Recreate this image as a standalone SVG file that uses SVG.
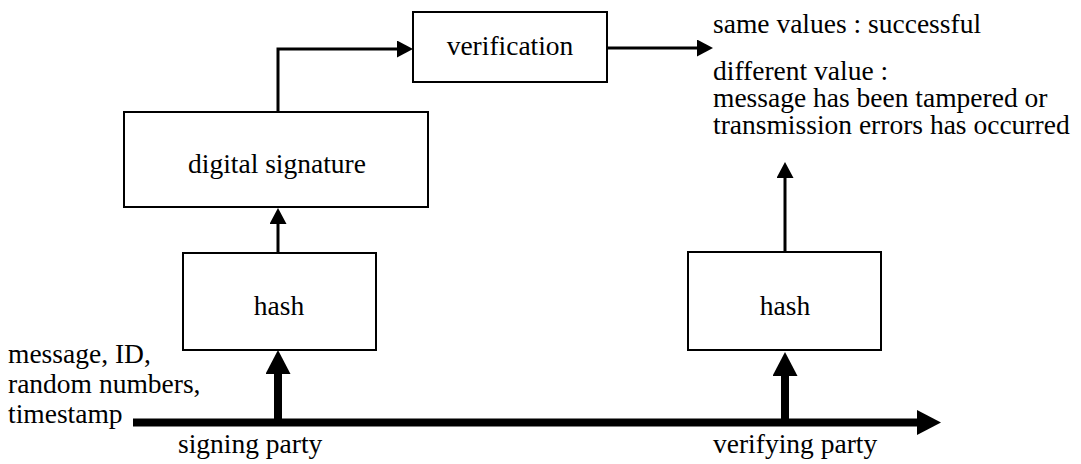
<svg xmlns="http://www.w3.org/2000/svg" width="1081" height="464" viewBox="0 0 1081 464">
<style>
.box{fill:#fff;stroke:#000;stroke-width:2}
text{font-family:'Liberation Serif','DejaVu Serif',serif;font-size:27.5px;fill:#000}
.c{text-anchor:middle}
.thin{stroke:#000;stroke-width:3;fill:none}
.thick{stroke:#000;stroke-width:8;fill:none}
</style>
<defs>
<marker id="ah" markerUnits="userSpaceOnUse" markerWidth="16" markerHeight="17" refX="0" refY="8.5" orient="auto"><path d="M0,0 L16,8.5 L0,17 z" fill="#000"/></marker>
<marker id="ahb" markerUnits="userSpaceOnUse" markerWidth="24" markerHeight="25" refX="0" refY="12.5" orient="auto"><path d="M0,0 L24,12.5 L0,25 z" fill="#000"/></marker>
</defs>
<rect width="1081" height="464" fill="#fff"/>
<g id="connectors">
<path class="thin" d="M278,112 V49 H397" marker-end="url(#ah)"/>
<path class="thin" d="M607,48 H697" marker-end="url(#ah)"/>
<path class="thin" d="M278,253 V224" marker-end="url(#ah)"/>
<path class="thin" d="M785,252 V178" marker-end="url(#ah)"/>
<path class="thick" d="M133,422.5 H917" marker-end="url(#ahb)"/>
<path class="thick" d="M278,423 V374" marker-end="url(#ahb)"/>
<path class="thick" d="M785,423 V376" marker-end="url(#ahb)"/>
</g>
<g font-family="Liberation Serif, serif">
<g id="verification"><rect class="box" x="413" y="12" width="194" height="70"/><text class="c" x="510" y="55">verification</text></g>
<g id="digital-signature"><rect class="box" x="124" y="112" width="304" height="95"/><text class="c" x="277" y="173">digital signature</text></g>
<g id="hash-sign"><rect class="box" x="183" y="253" width="193" height="97"/><text class="c" x="279" y="315">hash</text></g>
<g id="hash-verify"><rect class="box" x="688" y="252" width="193" height="98"/><text class="c" x="785" y="315">hash</text></g>
<g id="result-same"><text x="713" y="33">same values : successful</text></g>
<g id="result-different"><text x="713" y="80">different value :</text><text x="713" y="107">message has been tampered or</text><text x="713" y="134">transmission errors has occurred</text></g>
<g id="input"><text x="8" y="363">message, ID,</text><text x="8" y="393">random numbers,</text><text x="8" y="423">timestamp</text></g>
<g id="signing-party"><text x="178" y="453">signing party</text></g>
<g id="verifying-party"><text x="713" y="453">verifying party</text></g>
</g>
</svg>
